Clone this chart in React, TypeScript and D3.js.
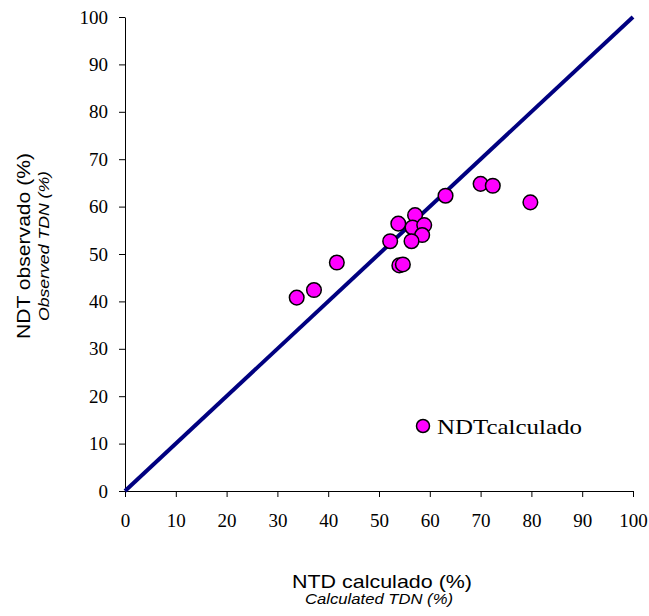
import React, { useRef, useEffect } from 'react';
import * as d3 from 'd3';

const calculado = [33.8, 37.2, 41.7, 52.2, 53.8, 54.0, 54.7, 57.1, 56.6, 58.9, 58.5, 56.4, 63.1, 70.0, 72.4, 79.8];
const observado = [40.8, 42.4, 48.2, 52.7, 56.4, 47.6, 47.8, 58.2, 55.6, 56.1, 54.0, 52.7, 62.3, 64.8, 64.4, 60.9];
const ticks = [0, 10, 20, 30, 40, 50, 60, 70, 80, 90, 100];
const lineaUno = [0, 100];

const App = () => {
  const svgRef = useRef<SVGSVGElement>(null);

  useEffect(() => {
    const width = 649;
    const height = 616;
    const svg = d3.select(svgRef.current).attr('width', width).attr('height', height);
    svg.selectAll('*').remove();

    const x = d3.scaleLinear().domain([0, 100]).range([125, 633]);
    const y = d3.scaleLinear().domain([0, 100]).range([491, 17]);
    const serif = "'Liberation Serif', 'Times New Roman', serif";
    const sans = "'Liberation Sans', Arial, sans-serif";

    // ejes
    const xAxis = svg.append('g')
      .attr('transform', `translate(0,${y(0)})`)
      .call(d3.axisBottom(x).tickValues(ticks).tickSize(6).tickSizeOuter(0).tickPadding(17));
    xAxis.selectAll('text')
      .attr('fill', 'black')
      .style('font-family', serif)
      .style('font-size', '19px');

    const yAxis = svg.append('g')
      .attr('transform', `translate(${x(0)},0)`)
      .call(d3.axisLeft(y).tickValues(ticks).tickSize(6).tickSizeOuter(0).tickPadding(11));
    yAxis.selectAll('text')
      .attr('fill', 'black')
      .style('font-family', serif)
      .style('font-size', '19px');
    svg.selectAll('.domain, .tick line').attr('stroke', 'black');

    // linea 1:1
    svg.append('line')
      .attr('x1', x(lineaUno[0])).attr('y1', y(lineaUno[0]))
      .attr('x2', x(lineaUno[1])).attr('y2', y(lineaUno[1]))
      .attr('stroke', '#000080')
      .attr('stroke-width', 4);

    // puntos
    svg.append('g').selectAll('circle')
      .data(calculado)
      .join('circle')
      .attr('cx', d => x(d))
      .attr('cy', (d, i) => y(observado[i]))
      .attr('r', 7.3)
      .attr('fill', '#FF00FF')
      .attr('stroke', 'black')
      .attr('stroke-width', 1.5);

    // leyenda
    svg.append('circle')
      .attr('cx', 423).attr('cy', 426).attr('r', 6.5)
      .attr('fill', '#FF00FF').attr('stroke', 'black').attr('stroke-width', 1.5);
    svg.append('text')
      .attr('x', 437).attr('y', 434)
      .style('font-family', serif).style('font-size', '22px')
      .attr('textLength', 145).attr('lengthAdjust', 'spacingAndGlyphs')
      .text('NDTcalculado');

    // titulos
    svg.append('text')
      .attr('x', 292).attr('y', 588)
      .style('font-family', sans).style('font-size', '19px')
      .attr('textLength', 180).attr('lengthAdjust', 'spacingAndGlyphs')
      .text('NTD calculado (%)');
    svg.append('text')
      .attr('x', 305).attr('y', 604)
      .style('font-family', sans).style('font-size', '14.5px').style('font-style', 'italic')
      .attr('textLength', 148).attr('lengthAdjust', 'spacingAndGlyphs')
      .text('Calculated TDN (%)');

    svg.append('text')
      .attr('text-anchor', 'middle')
      .attr('transform', 'translate(30,246) rotate(-90)')
      .style('font-family', sans).style('font-size', '19px')
      .attr('textLength', 186).attr('lengthAdjust', 'spacingAndGlyphs')
      .text('NDT observado (%)');
    svg.append('text')
      .attr('text-anchor', 'middle')
      .attr('transform', 'translate(49,246) rotate(-90)')
      .style('font-family', sans).style('font-size', '14.5px').style('font-style', 'italic')
      .attr('textLength', 150).attr('lengthAdjust', 'spacingAndGlyphs')
      .text('Observed TDN (%)');
  }, []);

  return (
    <svg ref={svgRef} style={{ position: 'absolute', left: 0, top: 0, background: 'white' }}></svg>
  );
};

export default App;
